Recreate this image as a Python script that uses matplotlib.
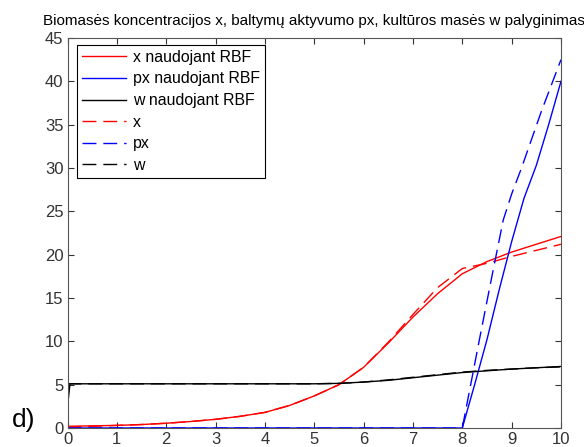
import numpy as np
import matplotlib
matplotlib.use("Agg")
import matplotlib.pyplot as plt

plt.rcParams['font.family'] = ['Liberation Sans', 'DejaVu Sans']

# biomass concentration x
t_x = [0, 0.5, 1, 1.5, 2, 2.5, 3, 3.5, 4, 4.5, 5, 5.5, 6, 6.5, 7, 7.5, 8, 8.5, 9, 9.5, 10]
x_rbf = [0.2, 0.25, 0.3, 0.4, 0.55, 0.75, 1.0, 1.35, 1.8, 2.6, 3.7, 5.0, 7.0, 9.8, 12.8, 15.5, 17.8, 19.2, 20.3, 21.2, 22.1]
x_ref = [0.1, 0.2, 0.3, 0.4, 0.55, 0.75, 1.0, 1.35, 1.8, 2.6, 3.7, 5.0, 7.0, 9.9, 13.1, 16.2, 18.4, 19.0, 19.8, 20.5, 21.2]

# protein activity px
t_px = [0, 2, 4, 6, 8, 8.25, 8.5, 8.75, 9, 9.25, 9.5, 9.75, 10]
px_rbf = [0, 0, 0, 0, 0, 5.0, 10.2, 16.0, 21.5, 26.5, 30.3, 35.0, 40.0]
t_px_ref = [0, 2, 4, 6, 8, 8.17, 8.34, 8.6, 8.83, 9, 9.2, 9.6, 10]
px_ref = [0, 0, 0, 0, 0, 5.0, 10.0, 17.5, 24.0, 27.0, 30.0, 36.5, 42.5]

# culture mass w
t_w = [0, 0.05, 1, 2, 3, 4, 5, 5.5, 6, 6.5, 7, 7.5, 8, 8.5, 9, 9.5, 10]
w_rbf = [2.5, 5.1, 5.1, 5.1, 5.1, 5.1, 5.1, 5.15, 5.3, 5.5, 5.8, 6.1, 6.4, 6.6, 6.8, 6.95, 7.1]
w_ref = [5.1, 5.1, 5.1, 5.1, 5.1, 5.1, 5.1, 5.15, 5.3, 5.55, 5.85, 6.15, 6.45, 6.65, 6.8, 6.95, 7.05]

fig = plt.figure(figsize=(5.84, 4.47), dpi=100)
ax = fig.add_axes([0.1156, 0.0425, 0.845, 0.8725])

dash = (0, (10, 5))
ax.plot(t_x, x_rbf, color='red', lw=1, label='x naudojant RBF')
ax.plot(t_px, px_rbf, color='blue', lw=1, label='px naudojant RBF')
ax.plot(t_w, w_rbf, color='black', lw=1, label='w naudojant RBF')
ax.plot(t_x, x_ref, color='red', lw=1, ls=dash, label='x')
ax.plot(t_px_ref, px_ref, color='blue', lw=1, ls=dash, label='px')
ax.plot(t_w, w_ref, color='black', lw=1, ls=dash, label='w')

ax.set_xlim(0, 10)
ax.set_ylim(0, 45)
ax.set_xticks(range(0, 11))
ax.set_yticks(range(0, 46, 5))
ax.tick_params(direction='in', top=True, right=True, labelsize=12, length=4,
               colors='#333333', pad=3)
for s in ax.spines.values():
    s.set_color('#555555')

ax.set_title('Biomasės koncentracijos x, baltymų aktyvumo px, kultūros masės w palyginimas',
             fontsize=11, pad=9)

leg = ax.legend(loc='upper left', fontsize=11.4, handlelength=2.8, handletextpad=0.45,
                labelspacing=0.42, borderpad=0.3, borderaxespad=0, fancybox=False,
                framealpha=1, bbox_to_anchor=(0.019, 0.982))
leg.get_frame().set_edgecolor('black')
leg.get_frame().set_linewidth(0.8)

fig.text(0.02, 0.045, 'd)', fontsize=19)

fig.savefig('out.png', dpi=100)
